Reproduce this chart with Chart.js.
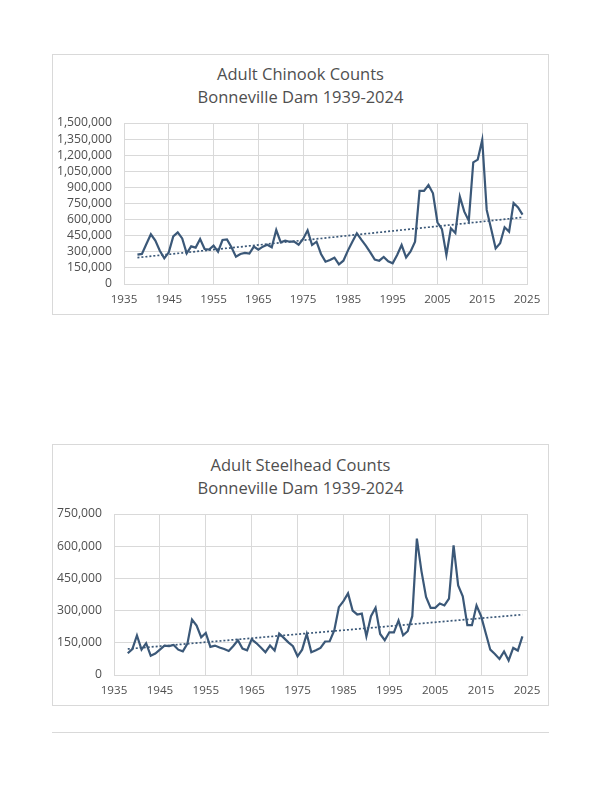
<!DOCTYPE html>
<html>
<head>
<meta charset="utf-8">
<script src="https://cdn.jsdelivr.net/npm/chart.js@4.4.1/dist/chart.umd.min.js"></script>
<style>
  html, body { margin: 0; padding: 0; background: #ffffff; }
  body { width: 612px; height: 792px; position: relative; overflow: hidden; font-family: "Open Sans", sans-serif; }
  .card { position: absolute; left: 52px; width: 497px; border: 1px solid #d9d9d9; box-sizing: border-box; background: #fff; }
  .title { position: absolute; left: 0; width: 100%; text-align: center; color: #4f4f4f; font-size: 16.5px; line-height: 23px; }
  canvas { position: absolute; left: 0; top: 0; }
  .sep { position: absolute; left: 52px; width: 497px; top: 732px; height: 1px; background: #d9d9d9; }
</style>
</head>
<body>
<div class="card" id="card1" style="top:54px;height:261px;">
  <div class="title" style="top:7px;">Adult Chinook Counts<br>Bonneville Dam 1939-2024</div>
  <canvas id="c1" width="497" height="261"></canvas>
</div>
<div class="card" id="card2" style="top:444px;height:262px;">
  <div class="title" style="top:8px;">Adult Steelhead Counts<br>Bonneville Dam 1939-2024</div>
  <canvas id="c2" width="497" height="262"></canvas>
</div>
<div class="sep"></div>
<script>
const years = [1938,1939,1940,1941,1942,1943,1944,1945,1946,1947,1948,1949,
  1950,1951,1952,1953,1954,1955,1956,1957,1958,1959,
  1960,1961,1962,1963,1964,1965,1966,1967,1968,1969,
  1970,1971,1972,1973,1974,1975,1976,1977,1978,1979,
  1980,1981,1982,1983,1984,1985,1986,1987,1988,1989,
  1990,1991,1992,1993,1994,1995,1996,1997,1998,1999,
  2000,2001,2002,2003,2004,2005,2006,2007,2008,2009,
  2010,2011,2012,2013,2014,2015,2016,2017,2018,2019,
  2020,2021,2022,2023,2024];

const chinook = [273000,280000,372000,463000,404000,310000,239000,295000,444000,481000,425000,286000,
  351000,339000,419000,326000,320000,357000,301000,410000,416000,342000,
  255000,280000,289000,283000,348000,320000,348000,366000,342000,503000,
  388000,404000,394000,394000,366000,419000,500000,363000,394000,280000,
  208000,224000,245000,183000,217000,311000,394000,472000,413000,357000,
  295000,227000,217000,252000,211000,193000,270000,363000,248000,304000,
  394000,867000,867000,922000,845000,575000,512000,270000,519000,475000,
  814000,674000,590000,1134000,1159000,1342000,690000,512000,332000,379000,
  528000,488000,755000,714000,646000];

const steelhead = [101000,121000,184000,118000,148000,90000,100000,118000,137000,135000,140000,118000,
  110000,146000,258000,230000,176000,196000,131000,137000,128000,121000,
  112000,135000,162000,123000,115000,166000,149000,128000,106000,137000,
  114000,193000,173000,152000,134000,87000,118000,191000,106000,115000,
  126000,156000,157000,208000,316000,344000,380000,300000,282000,286000,
  180000,274000,313000,191000,162000,199000,199000,254000,185000,204000,
  274000,635000,484000,364000,313000,313000,333000,324000,356000,604000,
  417000,367000,232000,232000,324000,274000,196000,118000,98000,75000,
  110000,68000,126000,114000,180000];

const xTicks = [1935,1945,1955,1965,1975,1985,1995,2005,2015,2025];
const chinookYTicks = [0,150000,300000,450000,600000,750000,900000,1050000,1200000,1350000,1500000];
const steelheadYTicks = [0,150000,300000,450000,600000,750000];

const LINE = '#3b5878';
const GRID = '#d9d9d9';
const TXT = '#4f4f4f';

function trend(xs, ys) {
  const n = xs.length;
  let sx = 0, sy = 0, sxx = 0, sxy = 0;
  for (let i = 0; i < n; i++) { sx += xs[i]; sy += ys[i]; sxx += xs[i]*xs[i]; sxy += xs[i]*ys[i]; }
  const b = (n*sxy - sx*sy) / (n*sxx - sx*sx);
  const a = (sy - b*sx) / n;
  return [{x: xs[0], y: a + b*xs[0]}, {x: xs[n-1], y: a + b*xs[n-1]}];
}

function makeChart(id, values, yTicks, yWidth, top) {
  const pts = years.map((y, i) => ({x: y, y: values[i]}));
  new Chart(document.getElementById(id), {
    type: 'line',
    data: {
      datasets: [
        { data: pts, borderColor: LINE, borderWidth: 2.2, pointRadius: 0, tension: 0, fill: false },
        { data: trend(years, values), borderColor: LINE, borderWidth: 1.7, borderDash: [2, 2], pointRadius: 0, fill: false }
      ]
    },
    options: {
      responsive: false,
      animation: false,
      layout: { padding: { left: 0, right: 23, top: top, bottom: 0 } },
      plugins: { legend: { display: false }, title: { display: false }, tooltip: { enabled: false } },
      scales: {
        x: {
          type: 'linear',
          min: xTicks[0], max: xTicks[xTicks.length-1],
          afterBuildTicks: s => { s.ticks = xTicks.map(v => ({value: v})); },
          afterFit: s => { s.height = 32; },
          ticks: { color: TXT, font: { family: 'Open Sans', size: 11.6 }, padding: 9, maxRotation: 0, autoSkip: false, callback: v => String(v) },
          grid: { color: GRID, drawTicks: false, lineWidth: 1 },
          border: { color: GRID }
        },
        y: {
          min: yTicks[0], max: yTicks[yTicks.length-1],
          afterBuildTicks: s => { s.ticks = yTicks.map(v => ({value: v})); },
          afterFit: s => { s.width = yWidth; },
          ticks: { color: TXT, font: { family: 'Open Sans', size: 12.2 }, padding: 12, autoSkip: false, callback: v => v.toLocaleString('en-US') },
          grid: { color: GRID, drawTicks: false, lineWidth: 1 },
          border: { color: GRID }
        }
      }
    }
  });
}

makeChart('c1', chinook, chinookYTicks, 71, 68);
makeChart('c2', steelhead, steelheadYTicks, 61, 69);
</script>
</body>
</html>
